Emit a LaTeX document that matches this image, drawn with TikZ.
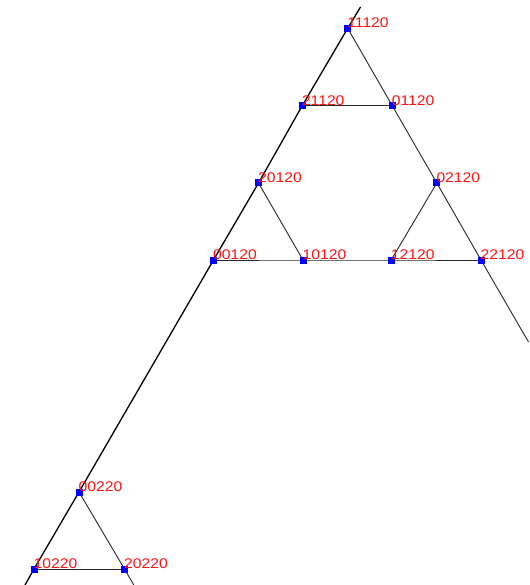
\documentclass[tikz,border=0pt]{standalone}
\usepackage{fontspec}
\setmainfont{Liberation Sans}
\newfontfamily\lblfont[FakeStretch=1.12]{Liberation Sans}
\definecolor{vblue}{RGB}{0,0,255}
\definecolor{lred}{RGB}{255,20,20}
\definecolor{edgegray}{RGB}{40,40,40}
\begin{document}
\begin{tikzpicture}[x=1pt,y=-1pt,
  vtx/.style={fill=vblue,minimum size=7pt,inner sep=0pt,outer sep=0pt,draw=none},
  lbl/.style={text=lred,font=\lblfont\fontsize{14}{14}\selectfont,anchor=south west,inner sep=0pt},
  edge/.style={draw=edgegray,line width=0.9pt},
  outer/.style={draw=black,line width=1.3pt}]
\useasboundingbox (0,0) rectangle (529,585);
\fill[white] (0,0) rectangle (529,585);
% vertices
\node[vtx] (a11120) at (347.7,28.3) {};
\node[vtx] (a21120) at (302.3,105.6) {};
\node[vtx] (a01120) at (392.2,105.6) {};
\node[vtx] (a20120) at (258.5,183) {};
\node[vtx] (a02120) at (436.8,183) {};
\node[vtx] (a00120) at (213.5,260) {};
\node[vtx] (a10120) at (303,260) {};
\node[vtx] (a12120) at (391.2,260) {};
\node[vtx] (a22120) at (481,260) {};
\node[vtx] (a00220) at (79,492) {};
\node[vtx] (a10220) at (34,569) {};
\node[vtx] (a20220) at (124.5,569) {};
\coordinate (ltop) at (360.5,7);
\coordinate (lbot) at (25,585);
\coordinate (rbot) at (528.5,342);
\coordinate (bbot) at (133.8,585);
% edges
\draw[outer] (ltop) -- (a11120.center) -- (a21120.center) -- (a20120.center) -- (a00120.center) -- (a00220.center) -- (a10220.center) -- (lbot);
\draw[edge] (a11120.center) -- (a01120.center) -- (a02120.center) -- (a22120.center) -- (rbot);
\draw[edge] (a21120.center) -- (a01120.center);
\draw[edge] (a00120.center) -- (a10120.center) -- (a12120.center) -- (a22120.center);
\draw[edge] (a20120.center) -- (a10120.center);
\draw[edge] (a02120.center) -- (a12120.center);
\draw[edge] (a00220.center) -- (a20220.center) -- (bbot);
\draw[edge] (a10220.center) -- (a20220.center);
% redraw vertices on top
\foreach \n in {a11120,a21120,a01120,a20120,a02120,a00120,a10120,a12120,a22120,a00220,a10220,a20220}
  \fill[vblue] ([shift={(-3.5,-3.5)}]\n.center) rectangle ([shift={(3.5,3.5)}]\n.center);
% labels
\node[lbl] (l11120) at ([shift={(-0.5,0)}]a11120.center) {11120};
\node[lbl] (l21120) at ([shift={(-0.5,0)}]a21120.center) {21120};
\node[lbl] (l01120) at ([shift={(-0.5,0)}]a01120.center) {01120};
\node[lbl] (l20120) at ([shift={(-0.5,0)}]a20120.center) {20120};
\node[lbl] (l02120) at ([shift={(-0.5,0)}]a02120.center) {02120};
\node[lbl] (l00120) at ([shift={(-0.5,0)}]a00120.center) {00120};
\node[lbl] (l10120) at ([shift={(-0.5,0)}]a10120.center) {10120};
\node[lbl] (l12120) at ([shift={(-0.5,0)}]a12120.center) {12120};
\node[lbl] (l22120) at ([shift={(-0.5,0)}]a22120.center) {22120};
\node[lbl] (l00220) at ([shift={(-0.5,0)}]a00220.center) {00220};
\node[lbl] (l10220) at ([shift={(-0.5,0)}]a10220.center) {10220};
\node[lbl] (l20220) at ([shift={(-0.5,0)}]a20220.center) {20220};
\end{tikzpicture}
\end{document}
